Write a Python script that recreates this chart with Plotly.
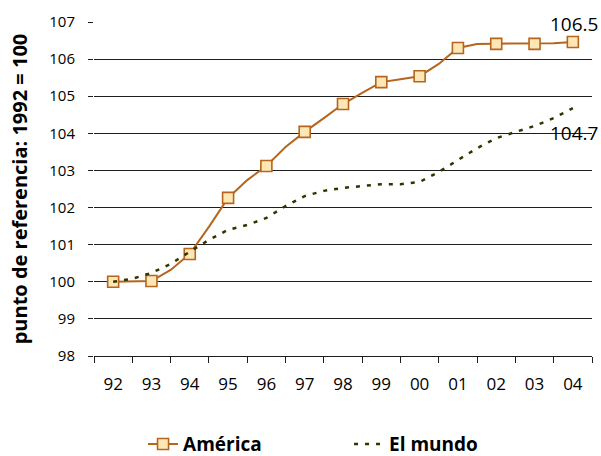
import plotly.graph_objects as go

# Tick labels (years)
years = ["92", "93", "94", "95", "96", "97", "98", "99", "00", "01", "02", "03", "04"]

# Half-year positions (index of year, 0 = 1992)
t_half = [i / 2 for i in range(25)]

# América (half-yearly values, markers on full years)
america = [100.0, 100.0, 100.02, 100.32, 100.75, 101.48, 102.26, 102.74, 103.12,
           103.63, 104.04, 104.41, 104.79, 105.09, 105.38, 105.46, 105.54, 105.87,
           106.3, 106.41, 106.41, 106.41, 106.41, 106.43, 106.46]

# El mundo (half-yearly values)
mundo = [100.0, 100.08, 100.24, 100.48, 100.81, 101.13, 101.4, 101.53, 101.72,
         102.04, 102.31, 102.45, 102.53, 102.58, 102.63, 102.63, 102.69, 102.96,
         103.28, 103.6, 103.87, 104.04, 104.2, 104.41, 104.68]

label_america = "106.5"
label_mundo = "104.7"

BROWN = "#b5651d"
FILL = "#ffe7b5"
OLIVE = "#333300"
GRID = "#1e1e1e"
FONT = "Open Sans"

full_year = [i % 2 == 0 for i in range(len(t_half))]
m_fill = [FILL if f else "rgba(0,0,0,0)" for f in full_year]
m_line = [BROWN if f else "rgba(0,0,0,0)" for f in full_year]

fig = go.Figure()
fig.add_trace(go.Scatter(
    x=t_half, y=america, name="América", mode="lines+markers",
    line=dict(color=BROWN, width=2),
    marker=dict(symbol="square", size=11, color=m_fill,
                line=dict(color=m_line, width=1.6)),
))
fig.add_trace(go.Scatter(
    x=t_half, y=mundo, name="El mundo", mode="lines",
    line=dict(color=OLIVE, width=2.5, dash="4px,7px"),
))

fig.add_annotation(x=t_half[-1], y=america[-1], xref="x", yref="y",
                   text=label_america, showarrow=False, xanchor="right",
                   font=dict(family=FONT, size=19, color="black"),
                   xshift=27, yshift=18)
fig.add_annotation(x=t_half[-1], y=mundo[-1], xref="x", yref="y",
                   text=label_mundo, showarrow=False, xanchor="right",
                   font=dict(family=FONT, size=19, color="black"),
                   xshift=27, yshift=-25)

fig.update_layout(
    width=601, height=456,
    margin=dict(l=94, r=9, t=22, b=100),
    paper_bgcolor="white", plot_bgcolor="white",
    font=dict(family=FONT, color="black"),
    showlegend=True,
    legend=dict(orientation="h", xref="container", yref="container",
                x=0.238, xanchor="left", y=0.026, yanchor="middle",
                font=dict(family=FONT, size=19, weight="bold", color="black"),
                entrywidth=161, entrywidthmode="pixels",
                bgcolor="rgba(0,0,0,0)"),
    xaxis=dict(
        range=[-0.5, 12.5], tickmode="array",
        tickvals=list(range(len(years))), ticktext=years,
        ticks="", showgrid=False, zeroline=False, automargin=False,
        showline=True, linecolor=GRID, linewidth=1,
        tickfont=dict(family=FONT, size=17, color="black"),
        ticklabelstandoff=13,
        minor=dict(tickmode="array", tickvals=[i - 0.5 for i in range(len(years) + 1)],
                   ticks="outside", ticklen=6, tickcolor=GRID, tickwidth=1, showgrid=False),
    ),
    yaxis=dict(
        range=[98, 107], dtick=1, tick0=98, automargin=False,
        showgrid=True, gridcolor=GRID, gridwidth=1, zeroline=False,
        showline=False, ticks="outside", ticklen=5, tickcolor=GRID,
        tickfont=dict(family=FONT, size=15, color="black"),
        ticklabelstandoff=10,
        title=dict(text="punto de referencia: 1992 = 100",
                   font=dict(family=FONT, size=20, weight="bold", color="black"),
                   standoff=16),
    ),
)

fig.write_html("out.html",
               config={"displayModeBar": False},
               post_script="document.documentElement.style.margin='0';"
                           "document.body.style.margin='0';")
